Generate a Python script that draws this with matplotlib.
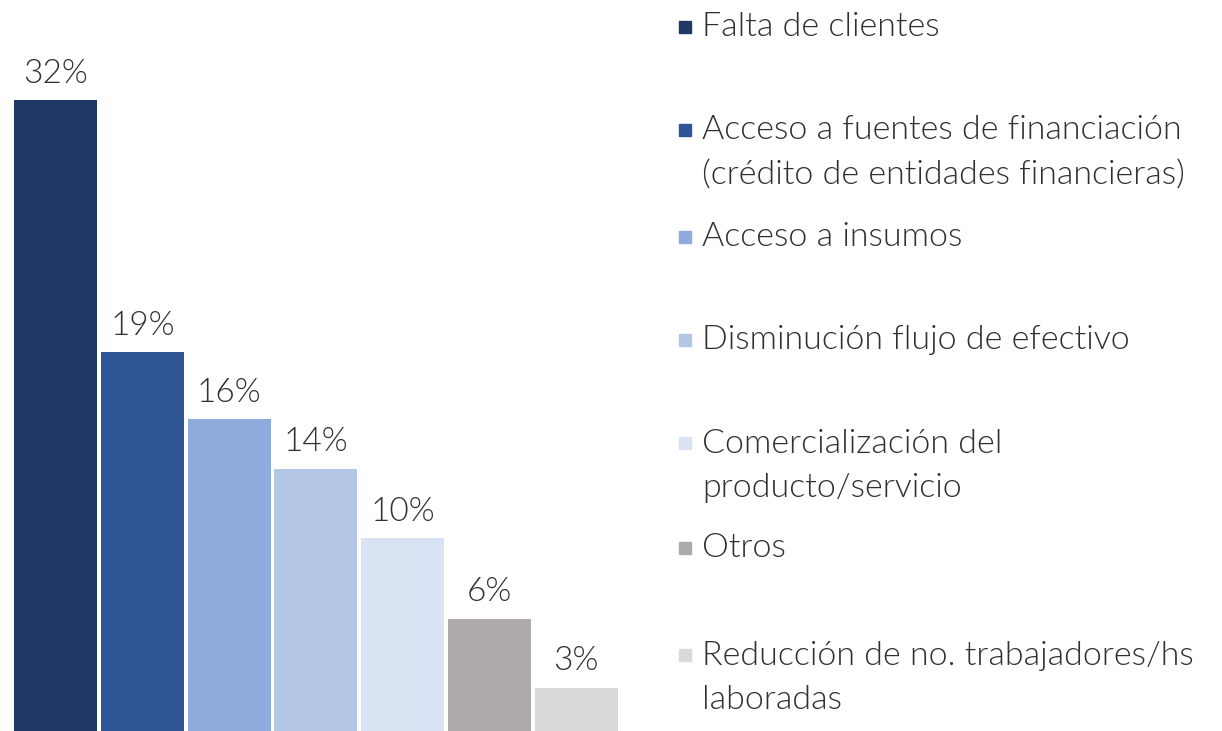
import matplotlib
matplotlib.use("Agg")
import matplotlib.pyplot as plt
from matplotlib.patches import Rectangle

plt.rcParams.update({
    "font.family": ["Lato", "DejaVu Sans"],
    "text.color": "#303030",
})

categories = [
    "Falta de clientes",
    "Acceso a fuentes de financiación\n(crédito de entidades financieras)",
    "Acceso a insumos",
    "Disminución flujo de efectivo",
    "Comercialización del\nproducto/servicio",
    "Otros",
    "Reducción de no. trabajadores/hs\nlaboradas",
]
# bar heights; labels as printed
values = [32.0, 19.2, 15.8, 13.3, 9.8, 5.7, 2.2]
value_labels = ["32%", "19%", "16%", "14%", "10%", "6%", "3%"]
colors = ["#1f3864", "#2f5597", "#8faadc", "#b4c7e7", "#dae3f3", "#aeaaaa", "#d9d9d9"]

W, H = 1222, 731
fig = plt.figure(figsize=(W / 100, H / 100), dpi=100)

ax = fig.add_axes([12.1 / W, 0, 607.6 / W, 1])
x = range(len(values))
bars = ax.bar(x, values, width=0.955, color=colors, edgecolor="none")
ax.set_xlim(-0.5, len(values) - 0.5)
ax.set_ylim(0, H / 19.73)
ax.axis("off")

for b, lab in zip(bars, value_labels):
    ax.annotate(lab, (b.get_x() + b.get_width() / 2, b.get_height()),
                xytext=(0, 8), textcoords="offset points",
                ha="center", va="bottom", fontsize=24, fontweight=300)

# legend, laid out like the original (fixed slot per entry)
first_line_y = [27, 130, 237, 340, 443, 548, 655]
line_gap = 46
for cat, col, y0 in zip(categories, colors, first_line_y):
    n = cat.count("\n") + 1
    yc = y0 + (n - 1) * line_gap / 2
    fig.patches.append(Rectangle((679 / W, 1 - (y0 + 6) / H), 12 / W, 12 / H,
                                 transform=fig.transFigure, color=col))
    fig.text(702 / W, 1 - yc / H, cat, ha="left", va="center",
             fontsize=24.5, fontweight=300, linespacing=1.62)

fig.savefig("out.png", dpi=100)
